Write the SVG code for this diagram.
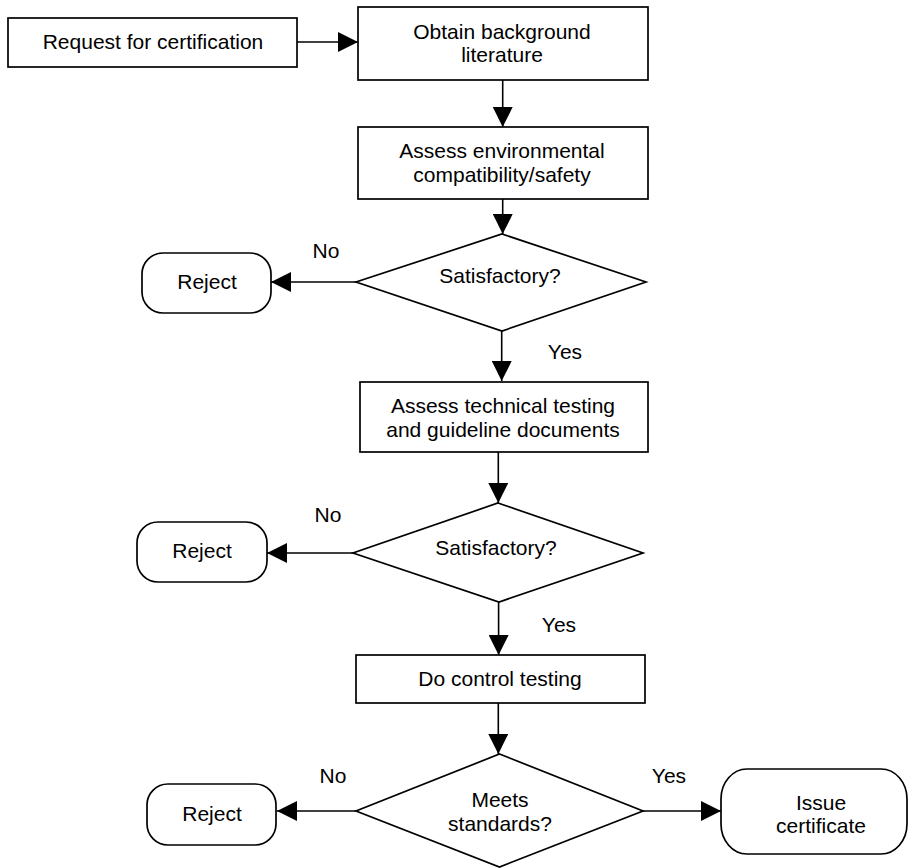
<svg xmlns="http://www.w3.org/2000/svg" width="909" height="868" viewBox="0 0 909 868">
<style>
.b{fill:#fff;stroke:#000;stroke-width:1.7}
.c{fill:none;stroke:#000;stroke-width:1.6}
text{font-family:"Liberation Sans",Arial,sans-serif;font-size:21px;fill:#000;text-anchor:middle}
</style>
<defs>
<marker id="ah" markerUnits="userSpaceOnUse" markerWidth="20" markerHeight="20" refX="20" refY="10" orient="auto">
<path d="M0,0 L20,10 L0,20 Z" fill="#000"/>
</marker>
</defs>
<rect width="909" height="868" fill="#fff"/>
<g id="connectors">
<path class="c" d="M297,42 H358" marker-end="url(#ah)"/>
<path class="c" d="M502.7,80 V127" marker-end="url(#ah)"/>
<path class="c" d="M502.7,199 V234" marker-end="url(#ah)"/>
<path class="c" d="M356,282 H271" marker-end="url(#ah)"/>
<path class="c" d="M501.7,331 V381" marker-end="url(#ah)"/>
<path class="c" d="M498.3,452 V503" marker-end="url(#ah)"/>
<path class="c" d="M353,553 H267" marker-end="url(#ah)"/>
<path class="c" d="M498.6,602 V655" marker-end="url(#ah)"/>
<path class="c" d="M498.3,703 V754" marker-end="url(#ah)"/>
<path class="c" d="M356,811 H277" marker-end="url(#ah)"/>
<path class="c" d="M643,811 H721" marker-end="url(#ah)"/>
</g>
<g id="request">
<rect class="b" x="8" y="18" width="289" height="49"/>
<text x="153" y="49">Request for certification</text>
</g>
<g id="obtain">
<rect class="b" x="358" y="7" width="290" height="73"/>
<text x="502" y="39">Obtain background</text>
<text x="502" y="62">literature</text>
</g>
<g id="assess-env">
<rect class="b" x="358" y="127" width="290" height="72"/>
<text x="502" y="158">Assess environmental</text>
<text x="502" y="182">compatibility/safety</text>
</g>
<g id="satisfactory1">
<polygon class="b" points="502,234 646,282 502,331 356,282"/>
<text x="500" y="283">Satisfactory?</text>
</g>
<g id="reject1">
<rect class="b" x="142" y="253" width="129" height="60" rx="21" ry="21"/>
<text x="207" y="289">Reject</text>
</g>
<g id="assess-tech">
<rect class="b" x="360" y="382" width="288" height="70"/>
<text x="503" y="413">Assess technical testing</text>
<text x="503" y="437">and guideline documents</text>
</g>
<g id="satisfactory2">
<polygon class="b" points="498,503 643,553 499,602 353,553"/>
<text x="496" y="555">Satisfactory?</text>
</g>
<g id="reject2">
<rect class="b" x="137" y="522" width="130" height="60" rx="21" ry="21"/>
<text x="202" y="558">Reject</text>
</g>
<g id="control">
<rect class="b" x="356" y="655" width="289" height="48"/>
<text x="500" y="686">Do control testing</text>
</g>
<g id="meets">
<polygon class="b" points="499.5,754 643,811 499.5,867 356,811"/>
<text x="500" y="807">Meets</text>
<text x="500" y="831">standards?</text>
</g>
<g id="reject3">
<rect class="b" x="147" y="784" width="129" height="61" rx="21" ry="21"/>
<text x="212" y="821">Reject</text>
</g>
<g id="issue">
<rect class="b" x="721" y="769" width="186" height="85" rx="26" ry="30"/>
<text x="821" y="810">Issue</text>
<text x="821" y="833">certificate</text>
</g>
<g id="labels">
<text x="326" y="258">No</text>
<text x="565" y="359">Yes</text>
<text x="328" y="522">No</text>
<text x="559" y="632">Yes</text>
<text x="333" y="783">No</text>
<text x="669" y="783">Yes</text>
</g>
</svg>
